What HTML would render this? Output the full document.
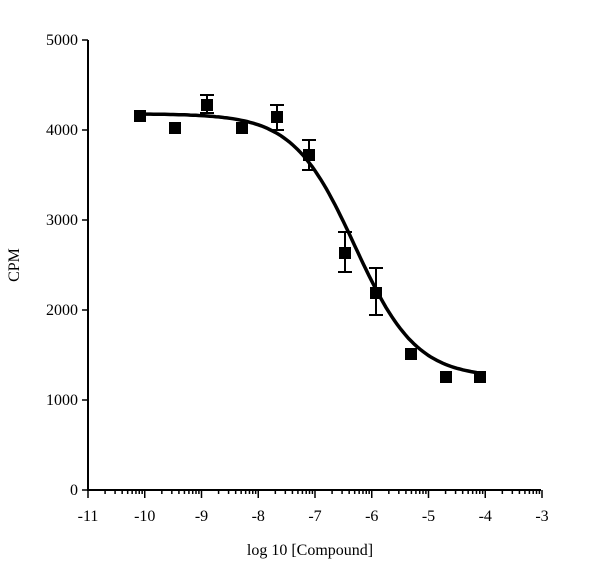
<!DOCTYPE html>
<html><head><style>body{margin:0;background:#fff}svg{display:block}text{font-family:"Liberation Serif",serif;font-size:16px;fill:#000}</style></head>
<body>
<svg id="s" width="600" height="582" viewBox="0 0 600 582">
<g stroke="#000" stroke-width="2" fill="none">
<line x1="88" y1="40" x2="88" y2="491"/>
<line x1="87" y1="490" x2="541" y2="490"/>
</g>
<g id="ticks" stroke="#000" stroke-width="1.5"></g>
<g id="lab"></g>
<text x="310" y="555" text-anchor="middle" font-size="17">log 10 [Compound]</text>
<text transform="translate(19,265) rotate(-90)" text-anchor="middle">CPM</text>
<path id="curve" stroke="#000" stroke-width="3.5" fill="none"/>
<g id="pts"></g>
</svg>
<script>
var NS="http://www.w3.org/2000/svg";
function X(v){return 88+(v+11)*56.75;}
function Y(v){return 490-v*0.09;}
function el(t,a,p){var e=document.createElementNS(NS,t);for(var k in a)e.setAttribute(k,a[k]);document.getElementById(p).appendChild(e);return e;}
for(var i=0;i<=5;i++){var y=Y(i*1000);el('line',{x1:82,y1:y,x2:88,y2:y},'ticks');var t=el('text',{x:78,y:y+5,'text-anchor':'end'},'lab');t.textContent=i*1000;}
for(var d=-11;d<=-3;d++){var x=X(d);el('line',{x1:x,y1:490,x2:x,y2:498},'ticks');var t=el('text',{x:x,y:521,'text-anchor':'middle'},'lab');t.textContent=d;
 if(d<-3)for(var m=2;m<=9;m++){var xx=X(d+Math.log10(m));el('line',{x1:xx,y1:490,x2:xx,y2:494},'ticks');}}
var dp="";for(var v=-10.1;v<=-4.05;v+=0.05){var c=1250+(4180-1250)/(1+Math.pow(10,(v+6.3)*0.8));dp+=(dp?"L":"M")+X(v).toFixed(1)+" "+Y(c).toFixed(1);}
document.getElementById('curve').setAttribute('d',dp);
var P=[[140,116],[175,128],[207,105,95,113],[242,128],[277,117,105,130],[309,155,140,170],[345,253,232,272],[376,293,268,315],[411,354],[446,377],[480,377]];
P.forEach(function(p){if(p[2]){el('line',{x1:p[0],y1:p[2],x2:p[0],y2:p[3],stroke:'#000','stroke-width':2},'pts');[p[2],p[3]].forEach(function(yy){el('line',{x1:p[0]-7,y1:yy,x2:p[0]+7,y2:yy,stroke:'#000','stroke-width':2},'pts');});}
el('rect',{x:p[0]-6,y:p[1]-6,width:12,height:12,fill:'#000'},'pts');});
</script>
</body></html>
